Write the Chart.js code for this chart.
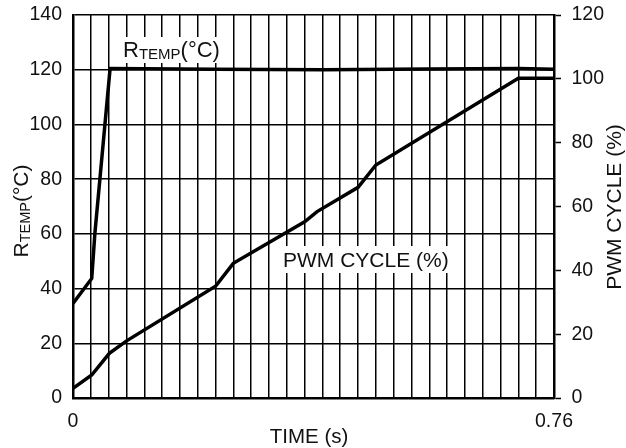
<!DOCTYPE html>
<html><head><meta charset="utf-8">
<script src="https://cdn.jsdelivr.net/npm/chart.js@4"></script>
<style>html,body{margin:0;padding:0;background:#fff}#wrap{width:626px;height:448px}</style>
</head><body><div id="wrap"><canvas id="c" width="626" height="448"></canvas></div>
<script>
// ---- data (time in seconds) ----
const rtempTime   = [0, 0.0296, 0.0346, 0.0586, 0.2252, 0.394, 0.563, 0.7037, 0.76];
const rtempValues = [34.6, 43.7, 60.3, 120.4, 120.2, 120.0, 120.3, 120.4, 120.2];
const pwmTime     = [0, 0.0296, 0.0574, 0.0847, 0.2252, 0.2533, 0.366, 0.3857, 0.4504, 0.4785, 0.7037, 0.76];
const pwmValues   = [3.0, 7.2, 14.0, 17.9, 35.0, 42.2, 55.2, 58.4, 66.0, 73.0, 100.2, 100.2];
const xMax = 0.76, xDivisions = 27;
const xTickLabels = ['0', '0.76'];
const leftTicks  = {min: 0, max: 140, step: 20};
const rightTicks = {min: 0, max: 120, step: 20};

const FONT = '"Liberation Sans", Arial, Helvetica, sans-serif';
const INK = '#111';

function toPts(xs, ys){ return xs.map((x,i)=>({x:x, y:ys[i]})); }

function rtempWidth(ctx, big, small){
  ctx.font = big + 'px ' + FONT; let w = ctx.measureText('R').width + ctx.measureText('(°C)').width;
  ctx.font = small + 'px ' + FONT; w += ctx.measureText('TEMP').width; return w;
}
function drawRtemp(ctx, x, y, big, small, sub){
  ctx.textAlign = 'left'; ctx.textBaseline = 'alphabetic';
  ctx.font = big + 'px ' + FONT; ctx.fillText('R', x, y); x += ctx.measureText('R').width;
  ctx.font = small + 'px ' + FONT; ctx.fillText('TEMP', x, y + sub); x += ctx.measureText('TEMP').width;
  ctx.font = big + 'px ' + FONT; ctx.fillText('(°C)', x, y);
}

const textPlugin = {
  id: 'texts',
  beforeDatasetsDraw(chart){
    const ctx = chart.ctx; ctx.save();
    ctx.fillStyle = '#fff';
    ctx.fillRect(116, 37, 113, 26);
    ctx.fillRect(277, 246, 176, 27);
    ctx.fillStyle = INK;
    drawRtemp(ctx, 123, 56.7, 22, 15, 2.5);
    ctx.font = '21px ' + FONT; ctx.textAlign = 'left'; ctx.textBaseline = 'alphabetic';
    ctx.fillText('PWM CYCLE (%)', 283, 267.3);
    ctx.restore();
  },
  afterDraw(chart){
    const ctx = chart.ctx; ctx.save(); ctx.fillStyle = INK;
    ctx.save(); ctx.translate(28, 211); ctx.rotate(-Math.PI/2);
    const w = rtempWidth(ctx, 21, 14.5);
    drawRtemp(ctx, -w/2, 0, 21, 14.5, 1.5);
    ctx.restore();
    ctx.save(); ctx.translate(621, 207); ctx.rotate(-Math.PI/2);
    ctx.font = '21px ' + FONT; ctx.textAlign = 'center'; ctx.textBaseline = 'alphabetic';
    ctx.fillText('PWM CYCLE (%)', 0, 0);
    ctx.restore();
    ctx.font = '20.5px ' + FONT; ctx.textAlign = 'center'; ctx.textBaseline = 'alphabetic';
    ctx.fillText('TIME (s)', 309, 443.3);
    ctx.restore();
  }
};

function noPad(s){ s.paddingTop = 0; s.paddingBottom = 0; s.paddingLeft = 0; s.paddingRight = 0; }

new Chart(document.getElementById('c'), {
  type: 'line',
  data: { datasets: [
    { label: 'RTEMP', data: toPts(rtempTime, rtempValues), yAxisID: 'y',
      borderColor: '#000', borderWidth: 3.5, pointRadius: 0, tension: 0, fill: false },
    { label: 'PWM', data: toPts(pwmTime, pwmValues), yAxisID: 'y1',
      borderColor: '#000', borderWidth: 3.5, pointRadius: 0, tension: 0, fill: false }
  ]},
  options: {
    responsive: false, animation: false, devicePixelRatio: 1,
    layout: { padding: { top: 15, left: 0, right: 0, bottom: 0 } },
    plugins: { legend: { display: false }, tooltip: { enabled: false } },
    scales: {
      x: { type: 'linear', min: 0, max: xMax,
        afterBuildTicks(s){ s.ticks = Array.from({length: xDivisions + 1}, (_, i) => ({value: i * xMax / xDivisions})); },
        afterFit(s){ s.height = 50; noPad(s); },
        ticks: { autoSkip: false, maxRotation: 0, padding: 12, color: INK,
          font: { family: FONT, size: 19.5 },
          callback: (v, i) => i === 0 ? xTickLabels[0] : (i === xDivisions ? xTickLabels[1] : '') },
        grid: { color: '#000', lineWidth: 1.5, drawTicks: false },
        border: { color: '#000', width: 2.5 } },
      y: { position: 'left', min: leftTicks.min, max: leftTicks.max,
        afterFit(s){ s.width = 73; noPad(s); },
        ticks: { stepSize: leftTicks.step, padding: 11, color: INK, font: { family: FONT, size: 19.5 } },
        grid: { color: '#000', lineWidth: 1.5, drawTicks: false },
        border: { color: '#000', width: 2.5 } },
      y1: { position: 'right', min: rightTicks.min, max: rightTicks.max,
        afterFit(s){ s.width = 72; noPad(s); },
        ticks: { stepSize: rightTicks.step, padding: 10.5, color: INK, font: { family: FONT, size: 19.5 } },
        grid: { drawOnChartArea: false, drawTicks: true, tickLength: 7, tickColor: '#000', tickWidth: 1.5 },
        border: { color: '#000', width: 2.5 } }
    }
  },
  plugins: [textPlugin]
});
</script></body></html>
